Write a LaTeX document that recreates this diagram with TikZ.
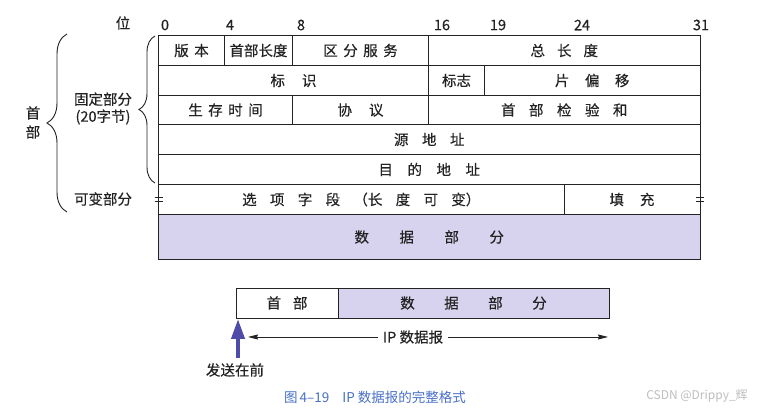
\documentclass[tikz,border=0pt]{standalone}
\usepackage{fontspec}
\setmainfont{Noto Sans CJK SC}[FakeBold=0.35]
\newfontfamily\plainfont{Noto Sans CJK SC}
\usetikzlibrary{arrows.meta,decorations.pathreplacing}
\definecolor{ln}{RGB}{35,35,35}
\definecolor{txt}{RGB}{35,35,35}
\definecolor{datafill}{RGB}{215,211,238}
\definecolor{sendblue}{RGB}{78,76,168}
\definecolor{capblue}{RGB}{72,112,200}
\definecolor{wmgrey}{RGB}{190,190,190}
\newcommand{\gp}[1]{\hspace{#1pt}}
\newcommand{\fsz}{\fontsize{14.5}{17}\selectfont}
\tikzset{
  x=1pt, y=-1pt,
  field/.style={draw=ln, line width=0.9pt, inner sep=0pt, text=txt, font=\fsz},
  lbl/.style={inner sep=0pt, text=txt, font=\fsz},
  bitlbl/.style={inner sep=0pt, text=txt, font=\fontsize{14.5}{14}\selectfont},
  bracestyle/.style={draw=ln, line width=0.9pt, decorate},
  eqmark/.style={draw=ln, line width=1pt},
}
\newcommand{\fl}[6]{\node[field, minimum width={(#4-#2)*1pt}, minimum height={(#5-#3)*1pt}] (#1) at ({(#2+#4)/2},{(#3+#5)/2}) {#6};}
\begin{document}
\begin{tikzpicture}
\path[use as bounding box, fill=white] (0,0) rectangle (764,411);
% bit labels
\node[lbl] (wei) at (123,23) {位};
\node[bitlbl] (b0) at (165,25) {0};
\node[bitlbl] (b4) at (230,25) {4};
\node[bitlbl] (b8) at (301,25) {8};
\node[bitlbl] (b16) at (442,25) {16};
\node[bitlbl] (b19) at (498,25) {19};
\node[bitlbl] (b24) at (582,25) {24};
\node[bitlbl] (b31) at (701,25) {31};
% data part (filled)
\node[field, fill=datafill, minimum width=541.5pt, minimum height=45pt] (data) at (429.25,237) {数\gp{30.5}据\gp{30.5}部\gp{30.5}分\hspace{14pt}};
% row 1
\fl{ver}{158.5}{35.5}{224.5}{65.5}{版\gp{5.5}本}
\fl{ihl}{224.5}{35.5}{292.5}{65.5}{首部长度}
\fl{tos}{292.5}{35.5}{428.5}{65.5}{区\gp{5.5}分\gp{5.5}服\gp{5.5}务}
\fl{tlen}{428.5}{35.5}{700}{65.5}{总\gp{12}长\gp{12}度}
% row 2
\fl{ident}{158.5}{65.5}{428.5}{95.5}{标\gp{17}识}
\fl{flags}{428.5}{65.5}{484.5}{95.5}{标志}
\fl{frag}{484.5}{65.5}{700}{95.5}{片\gp{15.5}偏\gp{15.5}移}
% row 3
\fl{ttl}{158.5}{95.5}{292.5}{124.5}{生\gp{5.5}存\gp{5.5}时\gp{5.5}间}
\fl{proto}{292.5}{95.5}{428.5}{124.5}{协\gp{17}议}
\fl{csum}{428.5}{95.5}{700}{124.5}{首\gp{13.5}部\gp{13.5}检\gp{13.5}验\gp{13.5}和}
% rows 4-5
\fl{src}{158.5}{124.5}{700}{154.5}{源\gp{13.5}地\gp{13.5}址}
\fl{dst}{158.5}{154.5}{700}{184.5}{目\gp{14.5}的\gp{14.5}地\gp{14.5}址}
% row 6
\fl{opt}{158.5}{184.5}{564}{214.5}{选\gp{13.3}项\gp{13.3}字\gp{13.3}段\gp{13.3}（长\gp{13.3}度\gp{13.3}可\gp{13.3}变）}
\fl{pad}{564}{184.5}{700}{214.5}{填\gp{16}充}
% equal marks
\coordinate (eqL) at (158.5,199.5);
\coordinate (eqR) at (700,199.5);
\draw[eqmark] ([xshift=-4pt,yshift=2pt]eqL) -- ([xshift=4pt,yshift=2pt]eqL);
\draw[eqmark] ([xshift=-4pt,yshift=-2pt]eqL) -- ([xshift=4pt,yshift=-2pt]eqL);
\draw[eqmark] ([xshift=-4pt,yshift=2pt]eqR) -- ([xshift=4pt,yshift=2pt]eqR);
\draw[eqmark] ([xshift=-4pt,yshift=-2pt]eqR) -- ([xshift=4pt,yshift=-2pt]eqR);
% braces
\coordinate (obT) at (67,34);
\coordinate (obB) at (67,212);
\draw[bracestyle, decoration={brace, amplitude=20pt}] (obB) -- (obT);
\coordinate (ibT) at (155,36);
\coordinate (ibB) at (155,183);
\draw[bracestyle, decoration={brace, amplitude=16pt}] (ibB) -- (ibT);
\node[lbl, align=center, font=\fontsize{14.5}{19}\selectfont] (shoubu) at (33,122.5) {首\\部};
\node[lbl, align=center, font=\fontsize{14.5}{17}\selectfont] (guding) at (103,108.5) {固定部分\\(20字节)};
\node[lbl] (kebian) at (103,199) {可变部分};
% bottom diagram
\fl{hdr}{236}{288}{338}{318}{首\gp{12}部}
\node[field, fill=datafill, minimum width=271pt, minimum height=30pt] (bdata) at (473.5,303) {数\gp{29.5}据\gp{29.5}部\gp{29.5}分};
\coordinate (al) at (248,337);
\coordinate (ar) at (608,337);
\draw[ln, line width=0.8pt, {Stealth[length=10pt,width=5pt,inset=1pt]}-{Stealth[length=10pt,width=5pt,inset=1pt]}] (al) -- (ar);
\node[lbl, fill=white, inner xsep=5pt] (ipd) at (413,337) {IP 数据报};
\coordinate (st) at (238,358);
\coordinate (sh) at (238,319);
\draw[sendblue, line width=4pt, -{Triangle[length=20pt,width=13pt]}] (st) -- (sh);
\node[lbl] (send) at (235,370) {发送在前};
% caption and watermark
\node[inner sep=0pt, text=capblue, font=\plainfont\fontsize{13.5}{14}\selectfont] (cap) at (375,397) {图\hspace{2pt}4–19\hspace{13pt}IP 数据报的完整格式};
\node[inner sep=0pt, text=wmgrey, font=\plainfont\fontsize{12}{12}\selectfont] (wm) at (697,396) {CSDN @Drippy\_辉};
\end{tikzpicture}
\end{document}
